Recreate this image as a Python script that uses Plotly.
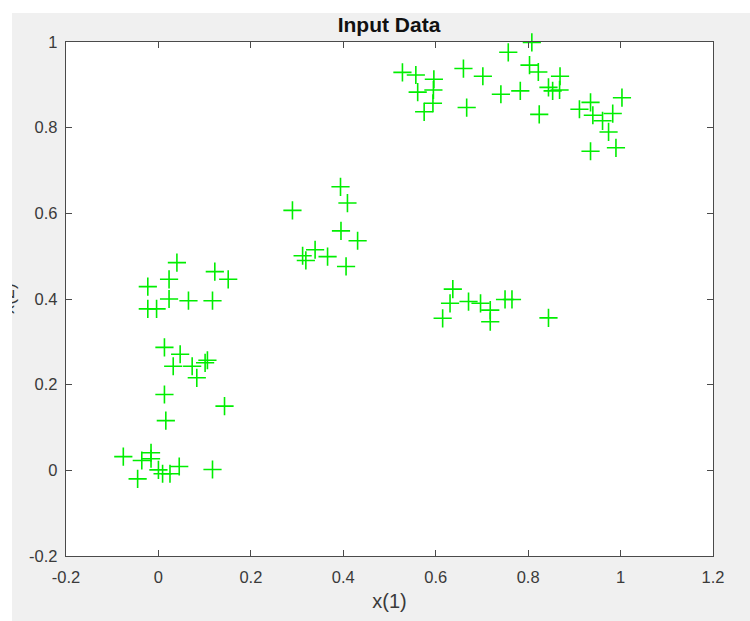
import plotly.graph_objects as go

# Sample points (x(1), x(2))
x1 = [0.040, 0.122, 0.151, -0.023, 0.023, 0.023, 0.065, 0.117, -0.023, -0.004,
      0.013, 0.047, 0.032, 0.073, 0.101, 0.106, 0.083, 0.013, 0.143, 0.016,
      -0.076, -0.036, -0.016, -0.016, 0.000, 0.009, 0.025, 0.045, 0.117, -0.045,
      0.394, 0.409, 0.290, 0.395, 0.431, 0.339, 0.312, 0.319, 0.366, 0.406,
      0.808, 0.757, 0.660, 0.803, 0.822, 0.702, 0.596, 0.869, 0.595, 0.844,
      0.853, 0.868, 0.783, 0.741, 0.594, 0.575, 0.667, 0.824, 1.003, 0.935,
      0.911, 0.940, 0.983, 0.961, 0.974, 0.935, 0.990, 0.528, 0.557, 0.561,
      0.637, 0.631, 0.671, 0.697, 0.718, 0.718, 0.750, 0.765, 0.615, 0.844]
x2 = [0.485, 0.464, 0.446, 0.429, 0.446, 0.400, 0.396, 0.396, 0.377, 0.377,
      0.287, 0.271, 0.243, 0.243, 0.251, 0.257, 0.216, 0.177, 0.150, 0.116,
      0.032, 0.023, 0.041, 0.027, 0.001, -0.008, -0.008, 0.009, 0.002, -0.020,
      0.662, 0.624, 0.607, 0.559, 0.536, 0.515, 0.501, 0.490, 0.499, 0.476,
      0.999, 0.976, 0.938, 0.946, 0.930, 0.920, 0.913, 0.920, 0.888, 0.894,
      0.886, 0.888, 0.886, 0.878, 0.857, 0.837, 0.847, 0.831, 0.870, 0.859,
      0.843, 0.829, 0.833, 0.816, 0.790, 0.745, 0.753, 0.929, 0.923, 0.883,
      0.423, 0.390, 0.394, 0.390, 0.374, 0.347, 0.399, 0.399, 0.355, 0.356]

x_ticks = [-0.2, 0, 0.2, 0.4, 0.6, 0.8, 1, 1.2]
x_tick_labels = ["-0.2", "0", "0.2", "0.4", "0.6", "0.8", "1", "1.2"]
y_ticks = [-0.2, 0, 0.2, 0.4, 0.6, 0.8, 1]
y_tick_labels = ["-0.2", "0", "0.2", "0.4", "0.6", "0.8", "1"]

W, H = 750, 621
L, R, T, B = 66, 37, 42, 65
pw, ph = W - L - R, H - T - B


def px_x(px):
    return (px - L) / pw


def px_y(py):
    return (H - B - py) / ph


FONT = "Liberation Sans, Arial, sans-serif"
AX = "#4a4a4a"
TXT = "#3a3a3a"

fig = go.Figure()
fig.add_trace(go.Scatter(
    x=x1, y=x2, mode="markers",
    marker=dict(symbol="cross-thin", size=13, color="#00ee00",
                line=dict(color="#00ee00", width=1.6)),
    cliponaxis=False, showlegend=False, hoverinfo="x+y",
))

axis_common = dict(
    showgrid=False, zeroline=False, showline=True, linecolor=AX, linewidth=1.3,
    mirror="allticks", ticks="inside", ticklen=6, tickwidth=1.2, tickcolor=AX,
    tickfont=dict(family=FONT, size=16.5, color=TXT),
)

fig.update_xaxes(range=[-0.2, 1.2], tickvals=x_ticks, ticktext=x_tick_labels,
                 ticklabelstandoff=6,
                 title=dict(text="x(1)", font=dict(family=FONT, size=20, color=TXT),
                            standoff=9),
                 **axis_common)
fig.update_yaxes(range=[-0.2, 1.0], tickvals=y_ticks, ticktext=y_tick_labels,
                 ticklabelstandoff=4, **axis_common)

fig.update_layout(
    width=W, height=H,
    margin=dict(l=L, r=R, t=T, b=B, autoexpand=False),
    paper_bgcolor="#f0f0f0", plot_bgcolor="white",
    title=dict(text="<b>Input Data</b>", x=px_x(389), xref="paper", xanchor="center",
               y=1 - 25 / H, yref="container", yanchor="middle",
               font=dict(family=FONT, size=21, color="#111111")),
    shapes=[
        # white border strips along the top and left edges of the figure window
        dict(type="rect", xref="paper", yref="paper", layer="below",
             x0=px_x(0), x1=px_x(W), y0=px_y(13), y1=px_y(0),
             fillcolor="white", line=dict(width=0)),
        dict(type="rect", xref="paper", yref="paper", layer="below",
             x0=px_x(0), x1=px_x(12), y0=px_y(H), y1=px_y(0),
             fillcolor="white", line=dict(width=0)),
    ],
    annotations=[
        # y-axis label, partly hidden behind the left window edge
        dict(text="x(2)", textangle=-90, xref="paper", yref="paper",
             x=px_x(8), y=px_y(299), xanchor="center", yanchor="middle",
             showarrow=False, font=dict(family=FONT, size=18, color=TXT)),
        dict(text=" ", xref="paper", yref="paper", x=px_x(0), y=px_y(299),
             xanchor="left", yanchor="middle", width=12, height=80,
             bgcolor="white", borderpad=0, borderwidth=0, showarrow=False),
    ],
)

fig.write_html("out.html")
